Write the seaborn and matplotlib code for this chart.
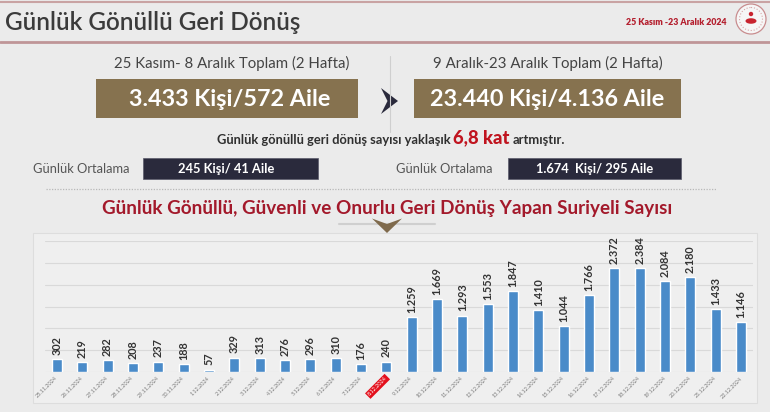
import matplotlib
matplotlib.use("Agg")
import matplotlib.pyplot as plt
import seaborn as sns
import pandas as pd
from matplotlib.patches import Rectangle, Polygon, Circle, Ellipse

# ---------------- data ----------------
dates = ["25.11.2024", "26.11.2024", "27.11.2024", "28.11.2024", "29.11.2024",
         "30.11.2024", "1.12.2024", "2.12.2024", "3.12.2024", "4.12.2024",
         "5.12.2024", "6.12.2024", "7.12.2024", "8.12.2024", "9.12.2024",
         "10.12.2024", "11.12.2024", "12.12.2024", "13.12.2024", "14.12.2024",
         "15.12.2024", "16.12.2024", "17.12.2024", "18.12.2024", "19.12.2024",
         "20.12.2024", "21.12.2024", "22.12.2024"]
values = [302, 219, 282, 208, 237, 188, 57, 329, 313, 276, 296, 310, 176, 240,
          1259, 1669, 1293, 1553, 1847, 1410, 1044, 1766, 2372, 2384, 2084,
          2180, 1433, 1146]
highlight_date = "8.12.2024"

page_title = "Günlük Gönüllü Geri Dönüş"
date_range = "25 Kasım -23 Aralık 2024"
left_head = "25 Kasım- 8 Aralık Toplam (2 Hafta)"
right_head = "9 Aralık-23 Aralık Toplam (2 Hafta)"
left_total = "3.433 Kişi/572 Aile"
right_total = "23.440 Kişi/4.136 Aile"
sentence_a = "Günlük gönüllü geri dönüş sayısı yaklaşık"
sentence_b = "6,8 kat"
sentence_c = "artmıştır."
avg_label = "Günlük Ortalama"
left_avg = "245 Kişi/ 41 Aile"
right_avg = "1.674  Kişi/ 295 Aile"
chart_title = "Günlük Gönüllü, Güvenli ve Onurlu Geri Dönüş Yapan Suriyeli Sayısı"

# ---------------- style ----------------
sns.set_theme(style="white")
plt.rcParams["font.family"] = ["Lato", "DejaVu Sans"]

W, H = 770, 412
BG = "#ebebeb"
BROWN = "#86724f"
NAVY = "#2a2a3c"
RED = "#a3192b"
BLUE = "#4a8bc9"

fig = plt.figure(figsize=(W / 100, H / 100), dpi=100)
fig.patch.set_facecolor(BG)

bg = fig.add_axes([0, 0, 1, 1], zorder=0)
bg.set_xlim(0, W)
bg.set_ylim(H, 0)
bg.axis("off")

# header lines
bg.plot([0, W], [2, 2], color="#c9a3a3", lw=1.5)
bg.plot([0, W], [42, 42], color="#bf9597", lw=2)

bg.text(5, 22, page_title, fontsize=17.5, fontweight="semibold", color="#3b3b3b",
        va="center", ha="left")
bg.text(726, 22, date_range, fontsize=6.3, fontweight="heavy", color="#b41f2e",
        va="center", ha="right")

# logo
bg.add_patch(Circle((751, 19), 15, facecolor="#f6f6f6", edgecolor="#c98d8f", lw=0.9))
bg.add_patch(Circle((751, 19), 11.5, facecolor="none", edgecolor="#d7a5a6", lw=0.8, ls=":"))
bg.add_patch(Circle((751, 14), 2.2, facecolor="#c8242f", edgecolor="none"))
bg.add_patch(Ellipse((751, 21), 11, 5.5, facecolor="#c8242f", edgecolor="none"))

# section headers
bg.text(232, 63, left_head, fontsize=10.8, color="#444444", ha="center", va="center")
bg.text(548, 63, right_head, fontsize=10.8, color="#444444", ha="center", va="center")

# separator line
bg.plot([390, 390], [56, 132], color="#cfcfcf", lw=0.8)

# brown boxes
bg.add_patch(Rectangle((96, 79), 262, 39, facecolor=BROWN, edgecolor="none"))
bg.add_patch(Rectangle((414, 79), 267, 39, facecolor=BROWN, edgecolor="none"))
bg.text(230, 99, left_total, fontsize=16.8, fontweight="bold", color="white",
        ha="center", va="center")
bg.text(547.5, 99, right_total, fontsize=16.8, fontweight="bold", color="white",
        ha="center", va="center")

# right arrow
bg.add_patch(Polygon([(381, 88), (398, 101), (381, 114), (387.5, 101)],
                     closed=True, facecolor=NAVY, edgecolor="none"))

# sentence with highlighted factor
renderer = fig.canvas.get_renderer()
ta = bg.text(0, 0, sentence_a, fontsize=9.3, fontweight="bold", color="#2f2f2f",
             ha="left", va="baseline")
tb = bg.text(0, 0, sentence_b, fontsize=13.2, fontweight="black", color="#c0141f",
             ha="left", va="baseline")
tc = bg.text(0, 0, sentence_c, fontsize=9.3, fontweight="bold", color="#2f2f2f",
             ha="left", va="baseline")
wa = ta.get_window_extent(renderer).width
wb = tb.get_window_extent(renderer).width
wc = tc.get_window_extent(renderer).width
gap = 3
total = wa + wb + wc + 2 * gap
x0 = 391 - total / 2
ta.set_x(x0)
tb.set_x(x0 + wa + gap)
tc.set_x(x0 + wa + wb + 2 * gap)
for t in (ta, tb, tc):
    t.set_y(143.5)

# daily averages
bg.text(33, 168.5, avg_label, fontsize=9.3, color="#555555", ha="left", va="center")
bg.add_patch(Rectangle((143, 158), 175, 21, facecolor=NAVY, edgecolor="#5a5a6a", lw=0.5))
bg.text(226, 168.5, left_avg, fontsize=9.3, fontweight="bold", color="white",
        ha="center", va="center")
bg.text(396, 168.5, avg_label, fontsize=9.3, color="#555555", ha="left", va="center")
bg.add_patch(Rectangle((508, 158), 173, 21, facecolor=NAVY, edgecolor="#5a5a6a", lw=0.5))
bg.text(594.5, 168.5, right_avg, fontsize=9.3, fontweight="bold", color="white",
        ha="center", va="center")

# dotted divider
bg.plot([46, 716], [189, 189], color="#b8b8b8", lw=0.9, ls=(0, (1, 1.2)))

# chart title
bg.text(387, 208, chart_title, fontsize=13.6, fontweight="bold", color=RED,
        ha="center", va="center")

# small line + chevron
bg.plot([339, 435], [224, 224], color="#cfcfcf", lw=1.5)
bg.add_patch(Polygon([(372, 218.5), (387, 224), (402, 218.5), (387, 233)],
                     closed=True, facecolor="#7f6a4c", edgecolor="none", zorder=3))

# chart panel
bg.add_patch(Rectangle((33, 233), 724, 170, facecolor="#efefef",
                       edgecolor="#dddddd", lw=0.8))

# ---------------- bar chart ----------------
df = pd.DataFrame({"date": dates, "value": values})
ax = fig.add_axes([45 / W, 40 / H, 708 / W, 131 / H], zorder=2)
ax.set_facecolor("none")
sns.barplot(data=df, x="date", y="value", color=BLUE, saturation=1,
            width=0.4, errorbar=None, ax=ax, zorder=3)
ax.set_xlim(-0.47, len(dates) - 0.53)
ax.set_ylim(0, 3000)
ax.set_yticks(range(0, 3001, 500))
ax.yaxis.grid(True, color="#d9d9d9", lw=0.8)
ax.set_axisbelow(True)
ax.tick_params(axis="y", left=False, labelleft=False)
ax.set_xlabel("")
ax.set_ylabel("")
for s in ax.spines.values():
    s.set_visible(False)

labels = [f"{v:,}".replace(",", ".") for v in values]
ax.bar_label(ax.containers[0], labels=labels, rotation=90, padding=3,
             fontsize=7.8, fontweight="bold", color="#333333")

ax.set_xticks(range(len(dates)))
ax.set_xticklabels(dates, rotation=45, ha="right", va="center",
                   rotation_mode="anchor", fontsize=4, color="#7a7a7a")
ax.tick_params(axis="x", length=0, pad=4)
for lab in ax.get_xticklabels():
    if lab.get_text() == highlight_date:
        lab.set_color("white")
        lab.set_bbox(dict(facecolor="#e3101c", edgecolor="none", pad=1))

fig.savefig("out.png", dpi=100, facecolor=BG)
